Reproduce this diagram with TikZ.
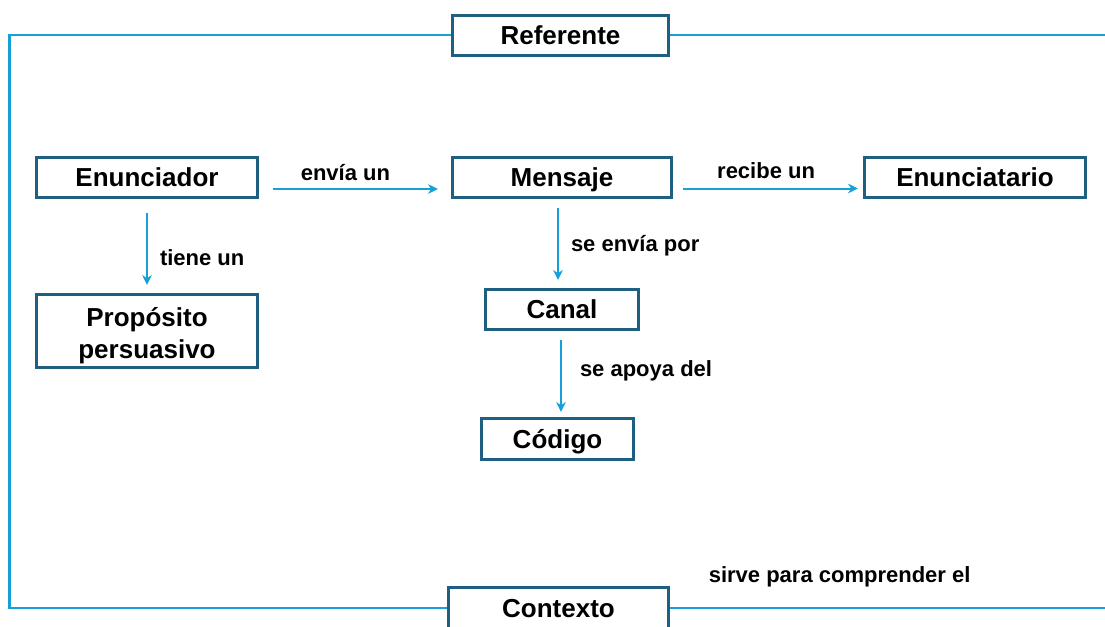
\documentclass[tikz,border=0pt]{standalone}
\usepackage{fontspec}
\setmainfont{Liberation Sans}
\usetikzlibrary{arrows.meta, positioning}
\definecolor{borde}{RGB}{31,96,130}
\definecolor{celeste}{RGB}{22,160,216}
\tikzstyle{caja} = [rectangle, draw=borde, line width=1.5pt, fill=white, minimum width=110.5pt, minimum height=20pt, text centered, inner sep=0pt, text height=10pt, text depth=0.8pt, font=\fontsize{13}{16}\selectfont\bfseries]
\tikzstyle{etiqueta} = [text=black, inner sep=2pt, font=\fontsize{11}{13}\selectfont\bfseries]
\tikzstyle{flecha} = [celeste, line width=1pt, -{Stealth[length=5pt,width=4.8pt]}]
\tikzstyle{marco} = [celeste, line width=1.4pt]
\begin{document}
\begin{tikzpicture}[x=0.5pt, y=-0.5pt, node distance=96pt]
\useasboundingbox (0,0) rectangle (1105,627);
% frame corners
\coordinate (esqA) at (9.5,35);
\coordinate (esqB) at (9.5,608);
\coordinate (finA) at (1105,35);
\coordinate (finB) at (1105,608);

\node (ref) [caja, minimum width=108pt] at (560.5,35) {Referente};

\node (enu) [caja] at (147,177.5) {Enunciador};
\node (men) [caja, minimum width=109.5pt, right=96pt of enu] {Mensaje};
\node (eno) [caja, right=95pt of men] {Enunciatario};

\node (pro) [caja, minimum height=36.5pt, align=center, text height=, text depth=] at (147,331) {\rule{0pt}{14pt}Propósito\\persuasivo};

\node (can) [caja, minimum width=76.5pt] at (562,309.5) {Canal};
\node (cod) [caja, minimum width=76pt, minimum height=20.5pt] at (557.5,439) {Código};

\node (ctx) [caja, minimum width=110pt, minimum height=20.5pt] at (558.5,608) {Contexto};

\draw [marco] (ref.west) -- (esqA) -- (esqB) -- (ctx.west);
\draw [marco] (ref.east) -- (finA);
\draw [marco] (ctx.east) -- node[etiqueta, pos=0.39, above=8pt] {sirve para comprender el} (finB);

\draw [flecha, shorten <=7pt, shorten >=6.5pt] ([yshift=-5.75pt]enu.east) -- node[etiqueta, pos=0.45, above=1.5pt] {envía un} ([yshift=-5.75pt]men.west);
\draw [flecha, shorten <=5pt, shorten >=2.5pt] ([yshift=-5.5pt]men.east) -- node[etiqueta, pos=0.49, above=2.5pt] {recibe un} ([yshift=-5.5pt]eno.west);
\draw [flecha, shorten <=7pt, shorten >=4pt] (enu) -- node[etiqueta, pos=0.62, right=4pt] {tiene un} (pro);
\draw [flecha, shorten <=4.5pt, shorten >=4pt] ([xshift=-2pt]men.south) -- node[etiqueta, pos=0.53, right=4pt] {se envía por} ([xshift=-2pt]men.south |- can.north);
\draw [flecha, shorten <=4.5pt, shorten >=2.5pt] ([xshift=-0.5pt]can.south) -- node[etiqueta, pos=0.46, right=7pt] {se apoya del} ([xshift=-0.5pt]can.south |- cod.north);
\end{tikzpicture}
\end{document}
